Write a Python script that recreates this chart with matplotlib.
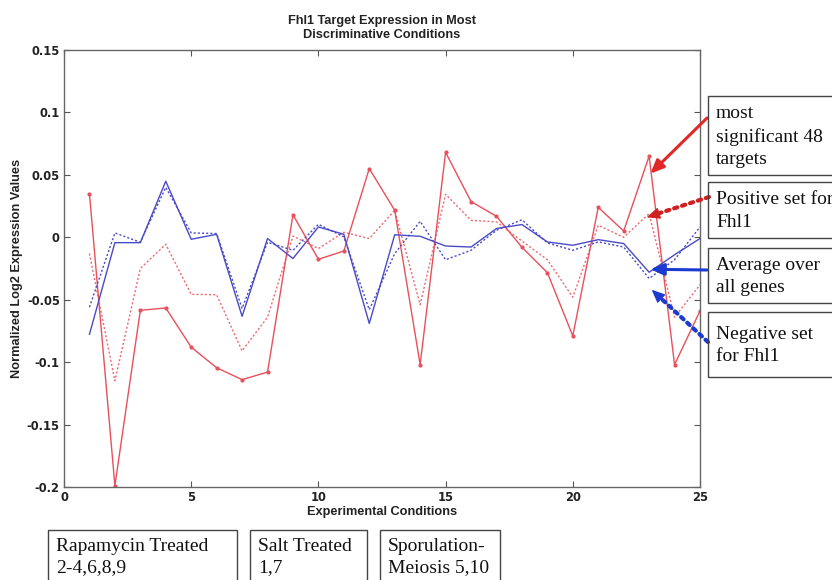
import matplotlib.pyplot as plt
from matplotlib.patches import Rectangle

# values
conditions = list(range(1, 26))
most_significant = [0.035, -0.199, -0.0585, -0.0566, -0.088, -0.1045, -0.114, -0.108,
                    0.018, -0.0176, -0.011, 0.055, 0.0216, -0.102, 0.068, 0.0286,
                    0.0168, -0.008, -0.0283, -0.079, 0.024, 0.005, 0.065, -0.102, -0.059]
positive_set = [-0.013, -0.115, -0.025, -0.0056, -0.0457, -0.046, -0.091, -0.064,
                0.001, -0.009, 0.004, -0.001, 0.0216, -0.054, 0.0345, 0.0136,
                0.0123, -0.003, -0.018, -0.048, 0.0096, 0.0, 0.019, -0.064, -0.038]
average_all = [-0.0777, -0.0043, -0.0043, 0.0449, -0.0016, 0.0024, -0.0633, -0.001,
               -0.017, 0.0083, 0.0024, -0.069, 0.002, 0.0008, -0.007, -0.0078,
               0.007, 0.0102, -0.0037, -0.0064, -0.0019, -0.005, -0.028, -0.014, -0.001]
negative_set = [-0.056, 0.0035, -0.004, 0.040, 0.0035, 0.003, -0.057, -0.004,
                -0.0104, 0.0104, 0.0003, -0.058, -0.013, 0.0128, -0.018, -0.0104,
                0.0056, 0.014, -0.0045, -0.0104, -0.0037, -0.0078, -0.033, -0.018, 0.0083]

x_ticks = [0, 5, 10, 15, 20, 25]
y_ticks = [-0.2, -0.15, -0.1, -0.05, 0, 0.05, 0.1, 0.15]
y_tick_labels = ["-0.2", "-0.15", "-0.1", "-0.05", "0", "0.05", "0.1", "0.15"]

side_notes = ["most\nsignificant 48\ntargets", "Positive set for\nFhl1",
              "Average over\nall genes", "Negative set\nfor Fhl1"]
condition_notes = ["Rapamycin Treated\n2-4,6,8,9", "Salt Treated\n1,7",
                   "Sporulation-\nMeiosis 5,10"]

W, H = 832, 580
RED = "#e8505a"
BLUE = "#4a4ac8"

fig = plt.figure(figsize=(W / 100, H / 100), dpi=100)
ax = fig.add_axes([64 / W, 1 - 487 / H, 636 / W, 437 / H])


def fx(px):
    return px / W


def fy(py):
    return 1 - py / H


ax.plot(conditions, most_significant, color=RED, lw=1.0, marker=".", ms=4)
ax.plot(conditions, positive_set, color=RED, lw=1.0, ls=(0, (1.5, 1.5)), alpha=0.85)
ax.plot(conditions, average_all, color=BLUE, lw=1.0)
ax.plot(conditions, negative_set, color=BLUE, lw=1.0, ls=(0, (1.5, 1.5)))

ax.set_xlim(0, 25)
ax.set_ylim(-0.2, 0.15)
ax.set_xticks(x_ticks)
ax.set_yticks(y_ticks)
ax.set_yticklabels(y_tick_labels)
ax.tick_params(direction="in", length=4, top=True, right=True, color="#555555",
               labelsize=8.3, pad=3)
for lab in ax.get_xticklabels() + ax.get_yticklabels():
    lab.set_fontweight("bold")
    lab.set_color("#222222")
for sp in ax.spines.values():
    sp.set_color("#666666")
    sp.set_linewidth(1.0)

sans = "Liberation Sans"
ax.set_title("Fhl1 Target Expression in Most\nDiscriminative Conditions",
             fontsize=9.2, fontweight="bold", family=sans, linespacing=1.15,
             color="#222222", pad=9)
ax.set_xlabel("Experimental Conditions", fontsize=9.2, fontweight="bold",
              family=sans, labelpad=1, color="#222222")
ax.set_ylabel("Normalized Log2 Expression Values", fontsize=9.2, fontweight="bold",
              family=sans, labelpad=3, color="#222222")

serif = "Liberation Serif"

# side annotation boxes (run off the right edge like the original)
side_boxes = [(96, 175), (182, 238), (248, 303), (312, 377)]
for (top, bottom), note in zip(side_boxes, side_notes):
    fig.patches.append(Rectangle((fx(708), fy(bottom)), fx(200), (bottom - top) / H,
                                 transform=fig.transFigure, fill=False,
                                 edgecolor="#444444", lw=1.0))
    fig.text(fx(716), fy((top + bottom) / 2 + 1), note, family=serif, fontsize=14,
             va="center", ha="left", linespacing=1.4, color="#111111")

# condition boxes below the axes
bottom_boxes = [(48, 237), (250, 367), (380, 500)]
for (left, right), note in zip(bottom_boxes, condition_notes):
    fig.patches.append(Rectangle((fx(left), fy(600)), (right - left) / W, 70 / H,
                                 transform=fig.transFigure, fill=False,
                                 edgecolor="#444444", lw=1.0))
    fig.text(fx(left + 8), fy(557), note, family=serif, fontsize=14,
             va="center", ha="left", linespacing=1.3, color="#111111")

# arrows from the side boxes to the curves: (head in data, tail in pixels)
arrow_specs = [
    ((23.05, 0.051), (707, 118), "#e02828", False),
    ((22.9, 0.016), (709, 197), "#d02020", True),
    ((23.05, -0.0256), (707, 270), "#1a3ad0", False),
    ((23.1, -0.042), (708, 342), "#1a3ad0", True),
]
fig.canvas.draw()
for head, tail, color, dotted in arrow_specs:
    tail_xy = (fx(tail[0]), fy(tail[1]))
    if not dotted:
        ax.annotate("", xy=head, xycoords="data", xytext=tail_xy,
                    textcoords="figure fraction",
                    arrowprops=dict(arrowstyle="-|>,head_length=0.8,head_width=0.35",
                                    color=color, lw=2.2, shrinkA=0, shrinkB=0),
                    annotation_clip=False)
        continue
    # dotted shaft plus a solid arrow head
    hx, hy = ax.transData.transform(head)
    tx, ty = tail[0], H - tail[1]
    dx, dy = tx - hx, ty - hy
    length = (dx ** 2 + dy ** 2) ** 0.5
    back = (hx + dx * 14 / length, hy + dy * 14 / length)
    ax.annotate("", xy=back, xycoords="figure pixels", xytext=tail_xy,
                textcoords="figure fraction",
                arrowprops=dict(arrowstyle="-", color=color, lw=3.0,
                                ls=(0, (0.8, 1.2)), shrinkA=0, shrinkB=0),
                annotation_clip=False)
    ax.annotate("", xy=head, xycoords="data", xytext=back,
                textcoords="figure pixels",
                arrowprops=dict(arrowstyle="-|>,head_length=0.8,head_width=0.35",
                                color=color, lw=1.0, shrinkA=0, shrinkB=0),
                annotation_clip=False)

fig.savefig("out.png", dpi=100)
